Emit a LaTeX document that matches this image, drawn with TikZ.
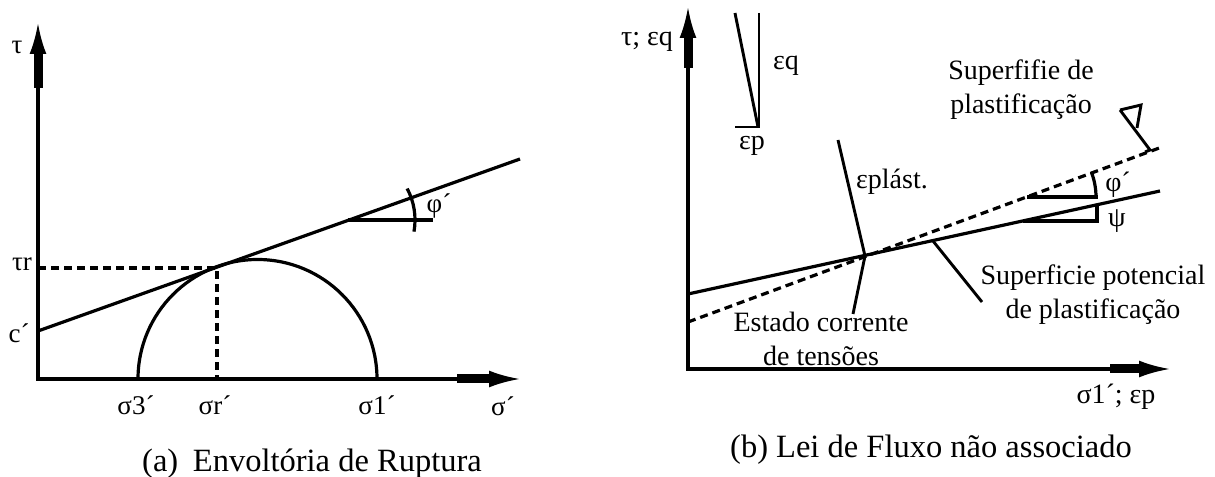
\documentclass[tikz,border=0pt]{standalone}
\usepackage{fontspec}
\setmainfont{Liberation Serif}
\usetikzlibrary{arrows.meta}
\begin{document}
\begin{tikzpicture}[x=1bp,y=-1bp,line width=3.2bp,
  lbl/.style={inner sep=0pt,anchor=base,font=\fontsize{27bp}{32bp}\selectfont},
  rlbl/.style={inner sep=0pt,align=center,font=\fontsize{28bp}{34bp}\selectfont},
  captxt/.style={inner sep=0pt,font=\fontsize{32.5bp}{38bp}\selectfont},
  axes/.style={line width=3.2bp,line join=miter,{Latex[length=31bp,width=17bp]}-{Latex[length=31bp,width=17bp]}},
  shaft/.style={line width=9bp},
  dsh/.style={dash pattern=on 8bp off 5bp},
  thin/.style={line width=2.9bp}
]
\useasboundingbox (0,0) rectangle (1215,477);

% ---------------- (a) ----------------
\coordinate (O1) at (38,379);
\coordinate (Y1) at (38,23);
\coordinate (X1) at (520,379);
\coordinate (Ys1a) at (38,88);
\coordinate (Ys1b) at (38,52);
\coordinate (Xs1a) at (457,379);
\coordinate (Xs1b) at (491,379);
\draw[axes] (Y1) -- (O1) -- (X1);
\draw[shaft] (Ys1a) -- (Ys1b);
\draw[shaft] (Xs1a) -- (Xs1b);

\coordinate (C1) at (38,331);
\coordinate (E1) at (520,159);
\draw (C1) -- (E1);
\coordinate (S3) at (138,379);
\draw (S3) arc[start angle=180,end angle=360,radius=119.5];
\coordinate (TR) at (38,268);
\coordinate (TP) at (217,268);
\coordinate (SR) at (217,379);
\draw[dsh] (TR) -- (TP) -- (SR);

\coordinate (Pa) at (348,220);
\coordinate (Pb) at (433,220);
\draw (Pa) -- (Pb);
\draw (Pa) ++(10:67) arc[start angle=10,end angle=-28,radius=67];

\node[lbl] (tau) at (17,54) {τ};
\node[lbl] (taur) at (22,271) {τr};
\node[lbl] (cc) at (19,343) {c´};
\node[lbl] (s3) at (136,414) {σ3´};
\node[lbl] (sr) at (215,414) {σr´};
\node[lbl] (s1) at (377,414) {σ1´};
\node[lbl] (sg) at (503,415) {σ´};
\node[lbl,anchor=center] (phia) at (439,206) {φ´};
\node[captxt] (capa) at (312,464) {(a)\hspace{0.45em}Envoltória de Ruptura};

% ---------------- (b) ----------------
\coordinate (O2) at (688,369);
\coordinate (Y2) at (688,7);
\coordinate (X2) at (1170,369);
\coordinate (Ys2a) at (688,68);
\coordinate (Ys2b) at (688,35);
\coordinate (Xs2a) at (1110,369);
\coordinate (Xs2b) at (1141,369);
\draw[axes] (Y2) -- (O2) -- (X2);
\draw[shaft] (Ys2a) -- (Ys2b);
\draw[shaft] (Xs2a) -- (Xs2b);

\coordinate (Pot0) at (688,294);
\coordinate (Pot1) at (1160,191);
\draw (Pot0) -- (Pot1);
\coordinate (Yl0) at (688,322);
\coordinate (Yl1) at (1162,147);
\draw[dsh] (Yl0) -- (Yl1);

\coordinate (Ep0) at (838,140);
\coordinate (Ep1) at (865,256);
\coordinate (Ep2) at (853,314);
\draw[thin] (Ep0) -- (Ep1) -- (Ep2);
\coordinate (Tk0) at (933,241);
\coordinate (Tk1) at (982,302);
\draw[thin] (Tk0) -- (Tk1);

\coordinate (Q0) at (735,13);
\coordinate (Q1) at (758,127);
\coordinate (Q2) at (759,13);
\coordinate (Q3) at (759,127);
\coordinate (Q4) at (735,127);
\draw[thin] (Q0) -- (Q1);
\draw[thin] (Q2) -- (Q3) -- (Q4);

\coordinate (F0) at (1120,110);
\coordinate (F1) at (1141,105);
\coordinate (F2) at (1137,128);
\coordinate (F3) at (1150,150);
\coordinate (F4) at (1145,152);
\draw[thin,line join=miter] (F0) -- (F1) -- (F2);
\draw[thin] (F0) -- (F3) -- (F4);

\coordinate (Ph0) at (1027,197);
\coordinate (Ph1) at (1098,197);
\draw (Ph0) -- (Ph1);
\draw (Ph0) ++(0:69) arc[start angle=0,end angle=-21,radius=69];
\coordinate (Ps0) at (1023,221);
\coordinate (Ps1) at (1097,221);
\coordinate (Ps2) at (1097,205);
\draw (Ps0) -- (Ps1) -- (Ps2);

\node[rlbl] (taueq) at (647,42) {τ; εq};
\node[rlbl] (eq) at (786,66) {εq};
\node[rlbl] (ep) at (752,146) {εp};
\node[rlbl] (eplast) at (892,182) {εplást.};
\node[rlbl] (sup) at (1021,90) {Superfifie de\\plastificação};
\node[rlbl] (est) at (821,339) {Estado corrente\\de tensões};
\node[rlbl] (pot) at (1093,295) {Superficie potencial\\de plastificação};
\node[rlbl] (phib) at (1118,185) {φ´};
\node[rlbl] (psi) at (1117,221) {ψ};
\node[rlbl] (s1ep) at (1116,397) {σ1´; εp};
\node[captxt] (capb) at (931,450) {(b) Lei de Fluxo não associado};
\end{tikzpicture}
\end{document}
